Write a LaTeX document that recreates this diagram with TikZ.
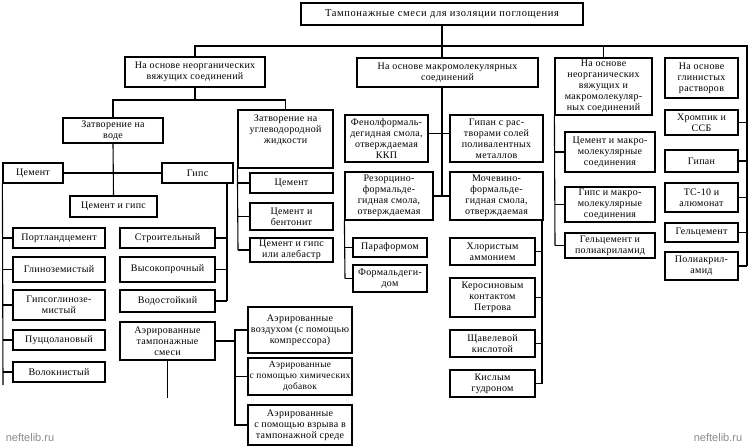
\documentclass[tikz,border=0pt]{standalone}
\usepackage{fontspec}
\setmainfont{Liberation Serif}[LetterSpace=3]
\newfontfamily\topfont{Liberation Serif}[LetterSpace=6]
\newfontfamily\wmfont{Liberation Sans}
\tikzset{
 nbox/.style={draw, line width=1.2pt, align=center, inner sep=1pt, font=\fontsize{10}{11}\selectfont},
 ntext/.style={align=center, inner sep=0pt, font=\fontsize{10}{11}\selectfont},
 ln/.style={line width=1.1pt},
 wm/.style={text=black!45, font=\wmfont\fontsize{11}{12}\selectfont}
}
\newcommand\mkbox[7][]{%
 \pgfmathsetmacro\bw{#5-#3}\pgfmathsetmacro\bh{#6-#4}%
 \pgfmathsetmacro\bcx{(#3+#5)/2}\pgfmathsetmacro\bcy{(#4+#6)/2}%
 \node[nbox,minimum width=\bw pt,minimum height=\bh pt,#1] (#2) at (\bcx,\bcy) {#7};}
\begin{document}
\begin{tikzpicture}[x=1pt,y=-1pt]
\useasboundingbox (0,0) rectangle (749,447);
\fill[white] (0,0) rectangle (749,447);
% headers
\mkbox[font=\topfont\fontsize{10.5}{12}\selectfont]{top}{301}{3}{583}{25}{Тампонажные смеси для изоляции поглощения}
\mkbox{h1}{125}{57}{265}{87}{На основе неорганических\\вяжущих соединений}
\mkbox{h2}{357}{58}{538}{87}{На основе макромолекулярных\\соединений}
\mkbox{h3}{555}{58}{652}{115}{На основе\\неорганических\\вяжущих и\\макромолекуляр-\\ных соединений}
\mkbox{h4}{665}{58}{738}{98}{На основе\\глинистых\\растворов}
% left branch
\mkbox{w}{63}{118}{163}{143}{Затворение на\\воде}
\mkbox{u}{238}{110}{333}{168}{}
\node[ntext] (ut) at (285.5,130) {Затворение на\\углеводородной\\жидкости};
\mkbox{cem}{3}{163}{63}{183}{Цемент}
\mkbox{gips}{162}{163}{233}{183}{Гипс}
\mkbox{cg}{70}{196}{157}{217}{Цемент и гипс}
\mkbox{port}{13}{228}{105}{248}{Портландцемент}
\mkbox{glin}{13}{257}{105}{282}{Глиноземистый}
\mkbox{gipsgl}{13}{290}{105}{320}{Гипсоглинозе-\\мистый}
\mkbox{pucc}{13}{330}{105}{350}{Пуццолановый}
\mkbox{volok}{13}{362}{105}{382}{Волокнистый}
\mkbox{stroit}{120}{228}{215}{248}{Строительный}
\mkbox{vysok}{120}{257}{215}{282}{Высокопрочный}
\mkbox{vodo}{120}{290}{215}{312}{Водостойкий}
\mkbox{aer}{120}{322}{215}{360}{Аэрированные\\тампонажные\\смеси}
\mkbox{aerA}{248}{307}{352}{353}{Аэрированные\\воздухом (с помощью\\компрессора)}
\mkbox[font=\fontsize{9.4}{11}\selectfont]{aerB}{248}{358}{352}{395}{Аэрированные\\с помощью химических\\добавок}
\mkbox{aerC}{248}{405}{352}{445}{Аэрированные\\с помощью взрыва в\\тампонажной среде}
\mkbox{ucem}{250}{173}{333}{193}{Цемент}
\mkbox{ubent}{250}{203}{333}{230}{Цемент и\\бентонит}
\mkbox{ualeb}{250}{238}{333}{262}{Цемент и гипс\\или алебастр}
% macromolecular
\mkbox{fen}{345}{115}{428}{162}{Фенолформаль-\\дегидная смола,\\отверждаемая\\ККП}
\mkbox{gipan}{450}{115}{543}{162}{Гипан с рас-\\творами солей\\поливалентных\\металлов}
\mkbox{rez}{345}{172}{433}{220}{Резорцино-\\формальде-\\гидная смола,\\отверждаемая}
\mkbox{moch}{450}{172}{543}{220}{Мочевино-\\формальде-\\гидная смола,\\отверждаемая}
\mkbox{paraf}{353}{238}{427}{257}{Параформом}
\mkbox{formal}{353}{265}{427}{292}{Формальдеги-\\дом}
\mkbox{hlor}{450}{238}{535}{265}{Хлористым\\аммонием}
\mkbox{keros}{450}{278}{535}{317}{Керосиновым\\контактом\\Петрова}
\mkbox{shav}{450}{330}{535}{357}{Щавелевой\\кислотой}
\mkbox{kisl}{450}{370}{535}{397}{Кислым\\гудроном}
% column 4
\mkbox{cm}{565}{132}{655}{172}{Цемент и макро-\\молекулярные\\соединения}
\mkbox{gm}{565}{187}{655}{222}{Гипс и макро-\\молекулярные\\соединения}
\mkbox{gp}{565}{233}{655}{258}{Гельцемент и\\полиакриламид}
% column 5
\mkbox{hrom}{665}{110}{738}{135}{Хромпик и\\ССБ}
\mkbox{gipan2}{665}{150}{738}{172}{Гипан}
\mkbox{ts}{665}{183}{738}{212}{ТС-10 и\\алюмонат}
\mkbox{gelc}{665}{223}{738}{242}{Гельцемент}
\mkbox{poli}{665}{252}{738}{280}{Полиакрил-\\амид}
% connectors: top bus
\coordinate (busR) at (747,46);
\coordinate (spR) at (747,266);
\draw[ln] (h1.north) |- (busR) -- (spR);
\draw[ln] (top.south) -- (top.south |- h2.north);
\draw[ln] (h3.north) -- (h3.north |- busR);
\foreach \n in {hrom,gipan2,ts,gelc,poli} \draw[ln] (\n.east) -- (\n.east -| spR);
% left branch
\coordinate (lbus) at (200,100);
\draw[ln] (h1.south) -- (h1.south |- lbus);
\draw[ln] (w.north) |- (lbus) -| (u.north);
\draw[ln] (w.south) -- (cg.north);
\draw[ln] (cem.east) -- (gips.west);
\coordinate (lsp) at (3,385);
\draw[ln] (cem.south west) -- (lsp);
\foreach \n in {port,glin,gipsgl,pucc,volok} \draw[ln] (\n.west) -- (\n.west -| lsp);
\coordinate (gsp) at (227,301);
\draw[ln] (gsp |- gips.south) -- (gsp);
\foreach \n in {stroit,vysok,vodo} \draw[ln] (\n.east) -- (\n.east -| gsp);
\coordinate (asp) at (235,425);
\draw[ln] (aer.east) -- (aer.east -| asp);
\draw[ln] (aerA.west) -| (asp) -- (aerC.west);
\draw[ln] (aerB.west) -- (aerB.west -| asp);
\coordinate (aend) at (167.5,398);
\draw[ln] (aer.south) -- (aend);
\coordinate (usp) at (238,250);
\draw[ln] (u.south west) -- (usp);
\foreach \n in {ucem,ubent,ualeb} \draw[ln] (\n.west) -- (\n.west -| usp);
% macromolecular
\draw[ln] (top.south |- h2.south) -- (top.south |- rez.east);
\draw[ln] (rez.east) -- (moch.west);
\draw[ln] ([yshift=5pt]fen.east) -- ([yshift=5pt]gipan.west);
\coordinate (rsp) at (345,278.5);
\draw[ln] (rez.south west) -- (rsp);
\foreach \n in {paraf,formal} \draw[ln] (\n.west) -- (\n.west -| rsp);
\coordinate (msp) at (542,383.5);
\draw[ln] (msp |- moch.south) -- (msp);
\foreach \n in {hlor,keros,shav,kisl} \draw[ln] (\n.east) -- (\n.east -| msp);
% column 4
\coordinate (c4sp) at (555,245.5);
\draw[ln] (h3.south west) -- (c4sp);
\foreach \n in {cm,gm,gp} \draw[ln] (\n.west) -- (\n.west -| c4sp);
% watermarks
\node[wm] (wm1) at (30,438) {neftelib.ru};
\node[wm] (wm2) at (718,438) {neftelib.ru};
\end{tikzpicture}
\end{document}
